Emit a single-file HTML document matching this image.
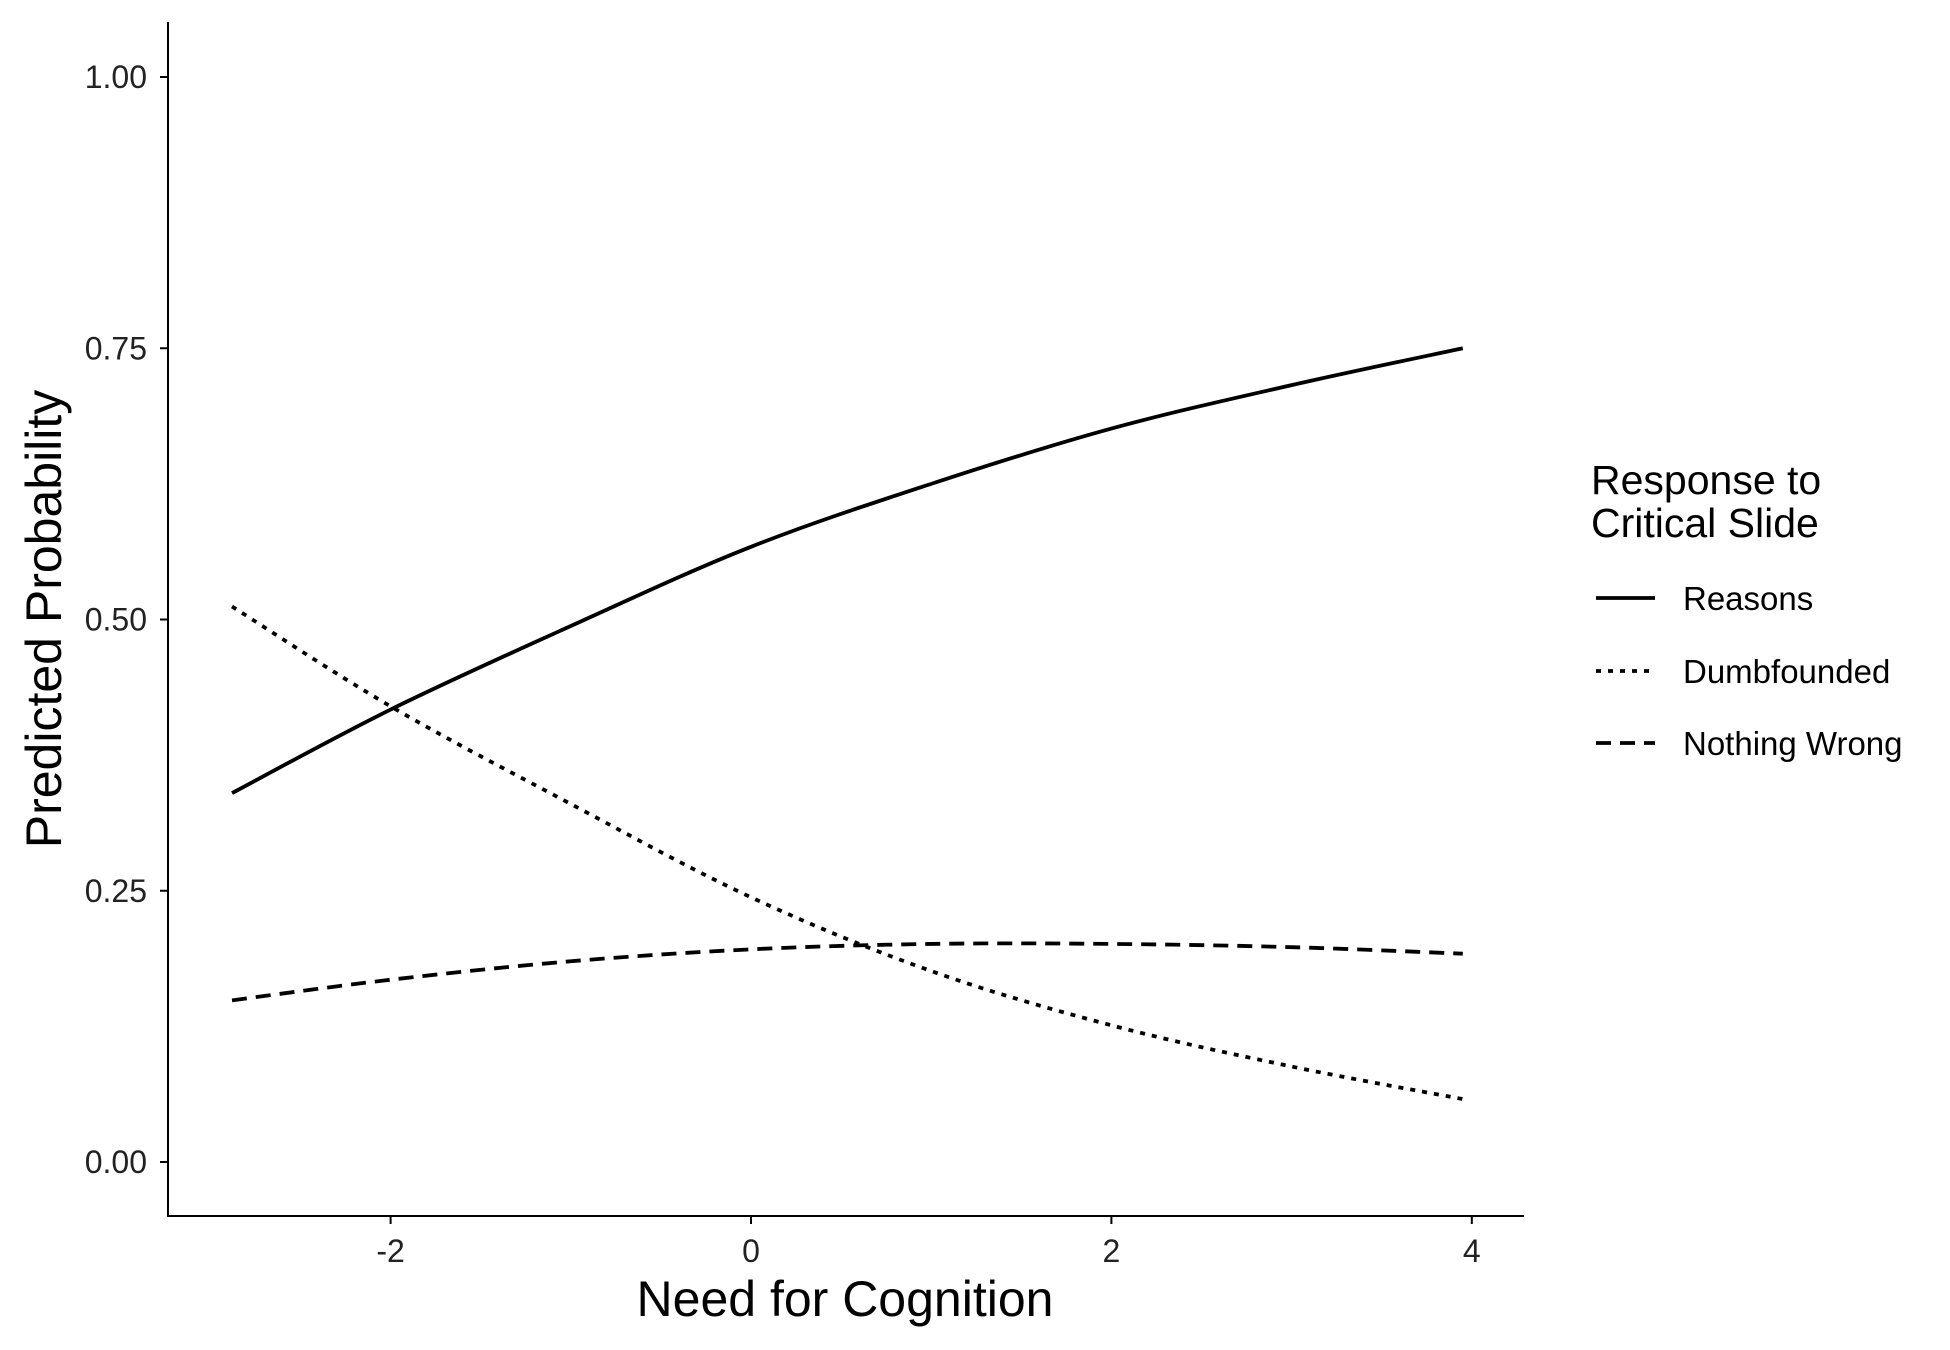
<!DOCTYPE html>
<html><head><meta charset="utf-8"><style>
html,body{margin:0;padding:0;background:#fff;}
svg{display:block;font-family:"Liberation Sans",Arial,sans-serif;}
</style></head><body>
<svg id="chart" width="1950" height="1350" viewBox="0 0 1950 1350" xmlns="http://www.w3.org/2000/svg">
<g id="axes"></g>
<g id="series"></g>
<text transform="translate(61,619) rotate(-90)" text-anchor="middle" font-size="50">Predicted Probability</text>
<text x="845" y="1316" text-anchor="middle" font-size="50">Need for Cognition</text>
<g>
<text x="1591" y="494" font-size="41">Response to</text>
<text x="1591" y="537" font-size="41">Critical Slide</text>
<line x1="1596" x2="1655" y1="598" y2="598" stroke="#000" stroke-width="3.8"/>
<text x="1683" y="610" font-size="33">Reasons</text>
<line x1="1596" x2="1655" y1="671" y2="671" stroke="#000" stroke-width="3.8" stroke-dasharray="5,7"/>
<text x="1683" y="683" font-size="33">Dumbfounded</text>
<line x1="1596" x2="1655" y1="743" y2="743" stroke="#000" stroke-width="3.8" stroke-dasharray="15,9"/>
<text x="1683" y="755" font-size="33">Nothing Wrong</text>
</g>
</svg>
<script>
const xValues = [-2.88, -2, -1, 0, 1, 2, 3, 3.95];
const reasons = [0.340, 0.417, 0.494, 0.567, 0.625, 0.676, 0.716, 0.750];
const dumbfounded = [0.512, 0.420, 0.330, 0.244, 0.176, 0.126, 0.088, 0.058];
const nothingWrong = [0.149, 0.168, 0.185, 0.196, 0.201, 0.201, 0.198, 0.192];
const yTicks = [0, 0.25, 0.5, 0.75, 1.0];
const yTickLabels = ["0.00", "0.25", "0.50", "0.75", "1.00"];
const xTicks = [-2, 0, 2, 4];
const xTickLabels = ["-2", "0", "2", "4"];

const NS = "http://www.w3.org/2000/svg";
function sx(v){ return 751 + v * 180.2; }
function sy(v){ return 1162 - v * 1085; }
const axes = document.getElementById('axes');
function mk(tag, attrs, parent){ const e = document.createElementNS(NS, tag); for (const k in attrs) e.setAttribute(k, attrs[k]); parent.appendChild(e); return e; }

const yl = mk('line', {x1:168, x2:168, y1:22, y2:1217, stroke:'#000', 'stroke-width':2}, axes);


const xl = mk('line', {x1:167, x2:1524, y1:1216, y2:1216, stroke:'#000', 'stroke-width':2}, axes);



yTicks.forEach((t, i) => {
  const tk = mk('line', {x1:160, x2:168, y1:sy(t), y2:sy(t), stroke:'#000', 'stroke-width':2}, axes);
  
  
  const tx = mk('text', {x:147, y:sy(t)+11, 'text-anchor':'end', 'font-size':32, fill:'#222'}, axes);
  tx.textContent = yTickLabels[i];
  
  
});
xTicks.forEach((t, i) => {
  const tk = mk('line', {x1:sx(t), x2:sx(t), y1:1216, y2:1224, stroke:'#000', 'stroke-width':2}, axes);
  
  
  const tx = mk('text', {x:sx(t), y:1262, 'text-anchor':'middle', 'font-size':32, fill:'#222'}, axes);
  tx.textContent = xTickLabels[i];
  
  
});

function smoothPath(xs, ys){
  const p = xs.map((x, i) => [sx(x), sy(ys[i])]);
  let d = 'M' + p[0][0] + ',' + p[0][1];
  for (let i = 0; i < p.length - 1; i++) {
    const p0 = p[Math.max(0, i-1)], p1 = p[i], p2 = p[i+1], p3 = p[Math.min(p.length-1, i+2)];
    const c1x = p1[0] + (p2[0]-p0[0])/6, c1y = p1[1] + (p2[1]-p0[1])/6;
    const c2x = p2[0] - (p3[0]-p1[0])/6, c2y = p2[1] - (p3[1]-p1[1])/6;
    d += ' C' + c1x + ',' + c1y + ' ' + c2x + ',' + c2y + ' ' + p2[0] + ',' + p2[1];
  }
  return d;
}
const series = document.getElementById('series');
const s1 = mk('path', {d: smoothPath(xValues, reasons), fill:'none', stroke:'#000', 'stroke-width':3.8}, series);


const s2 = mk('path', {d: smoothPath(xValues, dumbfounded), fill:'none', stroke:'#000', 'stroke-width':3.8, 'stroke-dasharray':'5,7'}, series);


const s3 = mk('path', {d: smoothPath(xValues, nothingWrong), fill:'none', stroke:'#000', 'stroke-width':3.8, 'stroke-dasharray':'15,9'}, series);


</script>
</body></html>
